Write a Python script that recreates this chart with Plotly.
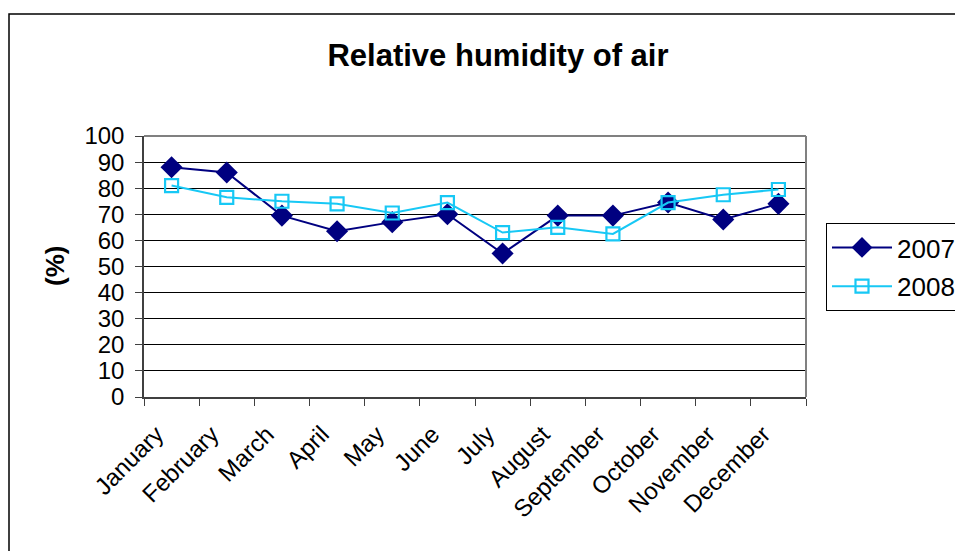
import plotly.graph_objects as go

months = ["January", "February", "March", "April", "May", "June", "July",
          "August", "September", "October", "November", "December"]
rh_2007 = [88, 86, 69.5, 63.5, 67, 70, 55, 69.5, 69.5, 74.5, 68, 74]
rh_2008 = [81, 76.5, 75, 74, 70.5, 74.5, 63, 65, 62.5, 74.5, 77.5, 79.5]
y_ticks = list(range(0, 101, 10))

FONT = "Liberation Sans, Arial, sans-serif"

# plot area in pixels
L, R, T, B = 144, 806, 136, 397
W, H = 955, 551
pw, ph = R - L, B - T

def px_x(p):
    return (p - L) / pw

def px_y(p):
    return (B - p) / ph

fig = go.Figure()
fig.add_trace(go.Scatter(
    x=months, y=rh_2007, name="2007", mode="lines+markers", legendgroup="a",
    line=dict(color="#000080", width=2),
    marker=dict(symbol="diamond", size=17, color="#000080"),
))
fig.add_trace(go.Scatter(
    x=months, y=rh_2008, name="2008", mode="lines+markers", legendgroup="b",
    line=dict(color="#17C8F5", width=2),
    marker=dict(symbol="square-open", size=13, color="#17C8F5", line=dict(width=2.2)),
))

fig.update_layout(
    width=W, height=H,
    margin=dict(l=L, r=W - R, t=T, b=H - B, autoexpand=False),
    paper_bgcolor="white", plot_bgcolor="white",
    font=dict(family=FONT, color="black"),
    title=dict(text="<b>Relative humidity of air</b>", x=498 / W,
               xanchor="center", y=1 - 55 / H, yanchor="middle",
               font=dict(size=31, family=FONT, color="black")),
    showlegend=True,
    legend=dict(x=px_x(826), y=px_y(223), xanchor="left", yanchor="top",
                bordercolor="black", borderwidth=1, bgcolor="white",
                font=dict(size=26, family=FONT), tracegroupgap=2,
                itemwidth=60),
    xaxis=dict(type="category", tickangle=-45, tickfont=dict(size=24, family=FONT),
               showgrid=False, showline=True, linecolor="#404040", linewidth=1.5,
               ticks="outside", ticklen=7, tickcolor="#404040", tickson="boundaries",
               ticklabelstandoff=12, ticklabelshift=-15,
               range=[-0.5, 11.5], zeroline=False, automargin=False),
    yaxis=dict(range=[0, 100], tickvals=y_ticks, ticktext=[str(v) for v in y_ticks],
               tickfont=dict(size=24, family=FONT), ticklabelstandoff=6,
               showgrid=True, gridcolor="black", gridwidth=1,
               showline=True, linecolor="#404040", linewidth=1.5,
               ticks="outside", ticklen=7, tickcolor="#404040", zeroline=False,
               automargin=False),
    shapes=[
        # plot-area border top/right (gray)
        dict(type="line", xref="paper", yref="paper", x0=0, x1=1, y0=1, y1=1,
             line=dict(color="#808080", width=2), layer="above"),
        dict(type="line", xref="paper", yref="paper", x0=1, x1=1, y0=0, y1=1,
             line=dict(color="#808080", width=2), layer="above"),
        # chart outer border
        dict(type="rect", xref="paper", yref="paper",
             x0=px_x(9), x1=px_x(W + 10), y0=px_y(14), y1=px_y(H + 10),
             line=dict(color="black", width=1.5), fillcolor="rgba(0,0,0,0)"),
    ],
    annotations=[
        dict(text="<b>(%)</b>", xref="paper", yref="paper", x=px_x(55), y=px_y(266),
             xanchor="center", yanchor="middle", textangle=-90, showarrow=False,
             font=dict(size=26, family=FONT, color="black")),
    ],
)

fig.write_html("out.html")
